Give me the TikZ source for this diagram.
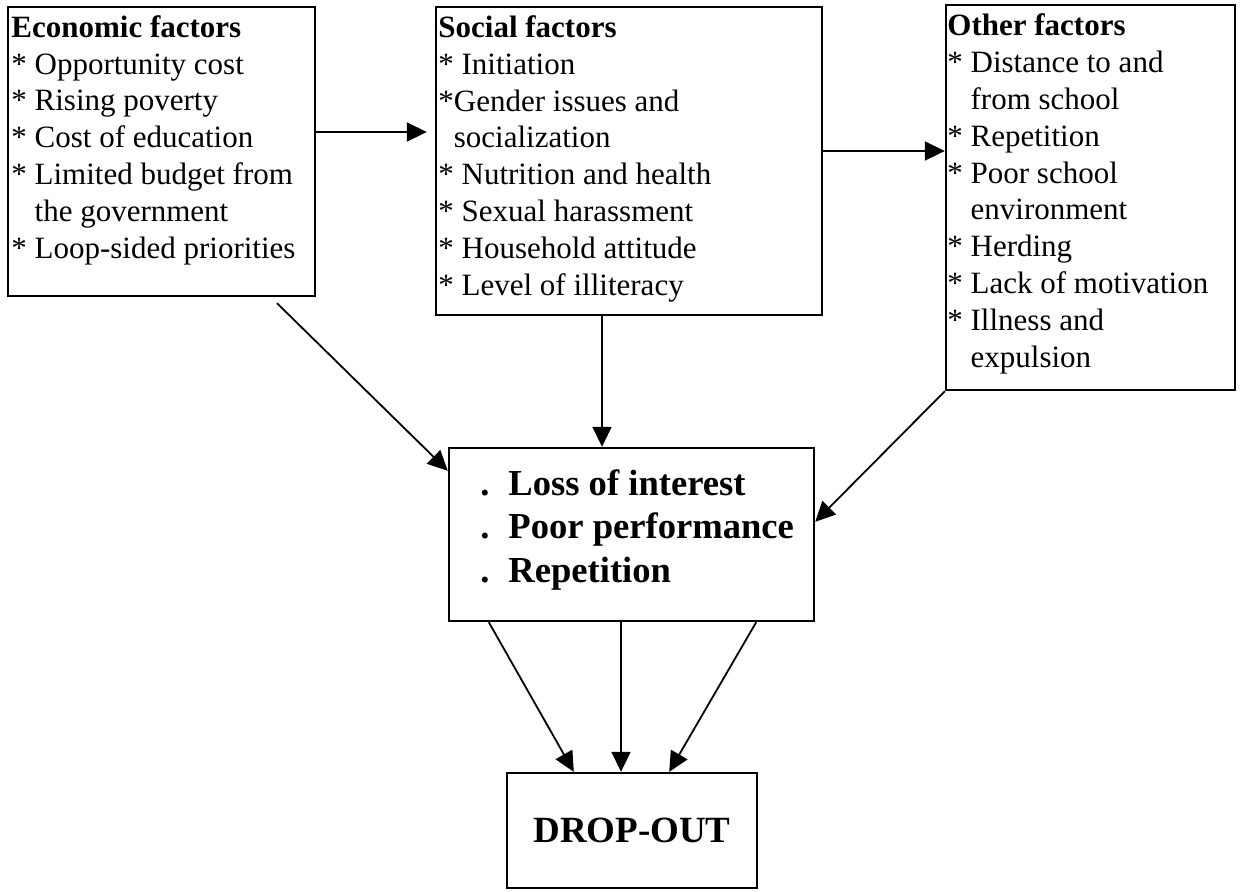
\documentclass[tikz,border=0pt]{standalone}
\usepackage{fontspec}
\setmainfont{Liberation Serif}
\usetikzlibrary{arrows.meta}
\tikzset{
  box/.style={draw, line width=1.2pt, inner sep=0pt},
  txt/.style={font=\fontsize{15.5}{18.4}\selectfont, align=left, inner sep=0pt, anchor=base west},
  arr/.style={line width=0.9pt, -{Triangle[length=10pt,width=9.5pt]}},
}
\newcommand{\ind}{\phantom{* }}
\begin{document}
\begin{tikzpicture}[x=0.5pt,y=-0.5pt]
\useasboundingbox (0,0) rectangle (1242,891);
% boxes
\node[box, minimum width=153.5pt, minimum height=144.5pt] (econ) at (161.5,151.5) {};
\node[box, minimum width=193pt, minimum height=154pt] (social) at (629,161) {};
\node[box, minimum width=144.5pt, minimum height=192.5pt] (other) at (1090.5,197.5) {};
\node[box, minimum width=182.5pt, minimum height=86.5pt] (mid) at (631.5,534.5) {};
\node[box, minimum width=125pt, minimum height=57.5pt,
      font=\bfseries\fontsize{18.5}{22}\selectfont] (drop) at (632,830.5) {DROP-OUT};
% texts (anchored at the baseline of their last line)
\node[txt] (econtxt) at (11,258) {\textbf{Economic factors}\\
* Opportunity cost\\
* Rising poverty\\
* Cost of education\\
* Limited budget from\\
\ind the government\\
* Loop-sided priorities};
\node[txt] (socialtxt) at (438,295) {\textbf{Social factors}\\
* Initiation\\
*Gender issues and\\
\phantom{*}socialization\\
* Nutrition and health\\
* Sexual harassment\\
* Household attitude\\
* Level of illiteracy};
\node[txt] (othertxt) at (947,367) {\textbf{Other factors}\\
* Distance to and\\
\ind from school\\
* Repetition\\
* Poor school\\
\ind environment\\
* Herding\\
* Lack of motivation\\
* Illness and\\
\ind expulsion};
\node[txt, font=\bfseries\fontsize{18.3}{21.75}\selectfont] (midtxt) at (480,582)
  {\makebox[14pt][l]{.}Loss of interest\\
   \makebox[14pt][l]{.}Poor performance\\
   \makebox[14pt][l]{.}Repetition};
% helper coordinates
\coordinate (ey) at (0,132);
\coordinate (sy) at (0,151);
\coordinate (mx) at (602,0);
\coordinate (dx) at (621,0);
% connectors
\draw[arr] (econ.east |- ey) -- ([xshift=-4pt]social.west |- ey);
\draw[arr] (social.east |- sy) -- (other.west |- sy);
\draw[arr] ([xshift=57.75pt,yshift=-3pt]econ.south) -- ([yshift=-12pt]mid.north west);
\draw[arr] (social.south -| mx) -- (mid.north -| mx);
\draw[arr] (other.south west) -- ([yshift=-37.5pt]mid.north east);
\draw[arr] ([xshift=20.5pt]mid.south west) -- ([xshift=34pt]drop.north west);
\draw[arr] (mid.south -| dx) -- (drop.north -| dx);
\draw[arr] ([xshift=-29.5pt]mid.south east) -- ([xshift=-44.5pt]drop.north east);
\end{tikzpicture}
\end{document}
